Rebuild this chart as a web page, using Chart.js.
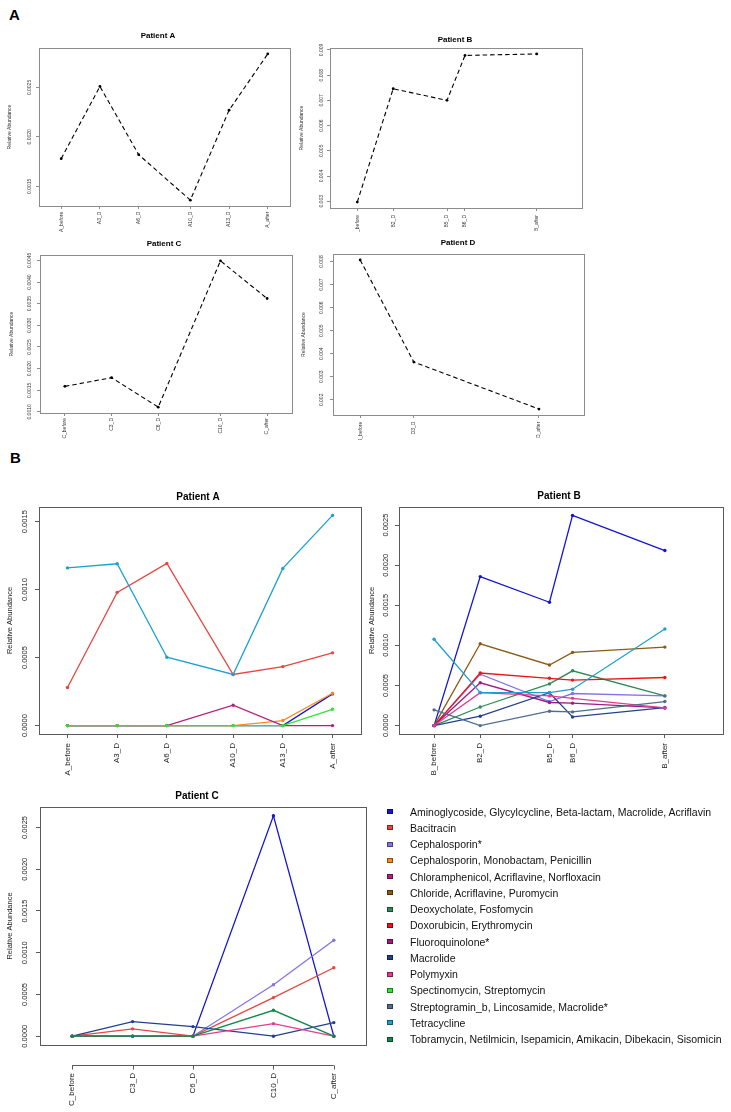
<!DOCTYPE html>
<html><head><meta charset="utf-8">
<script src="https://cdn.jsdelivr.net/npm/chart.js@4.4.1/dist/chart.umd.min.js"></script>
<style>
html,body{margin:0;padding:0;background:#fff;}
body{width:731px;height:1112px;position:relative;overflow:hidden;font-family:'Liberation Sans',Arial,sans-serif;}
canvas{position:absolute;}
.panel{position:absolute;font-weight:bold;font-size:15px;line-height:15px;color:#000;}
.li{position:absolute;font-size:10.5px;color:#111;white-space:nowrap;line-height:12px;}
.sw{position:absolute;width:6px;height:5px;box-sizing:border-box;border:1px solid rgba(0,0,0,0.45);}
</style></head><body>
<div class="panel" style="left:9px;top:7px">A</div>
<div class="panel" style="left:10px;top:450px">B</div>
<script>
const FONT = "'Liberation Sans', Arial, sans-serif";
Chart.defaults.font.family = FONT;
Chart.defaults.color = '#222';

// ---------- antibiotic classes (legend) ----------
const classNames = [
  'Aminoglycoside, Glycylcycline, Beta-lactam, Macrolide, Acriflavin',
  'Bacitracin',
  'Cephalosporin*',
  'Cephalosporin, Monobactam, Penicillin',
  'Chloramphenicol, Acriflavine, Norfloxacin',
  'Chloride, Acriflavine, Puromycin',
  'Deoxycholate, Fosfomycin',
  'Doxorubicin, Erythromycin',
  'Fluoroquinolone*',
  'Macrolide',
  'Polymyxin',
  'Spectinomycin, Streptomycin',
  'Streptogramin_b, Lincosamide, Macrolide*',
  'Tetracycline',
  'Tobramycin, Netilmicin, Isepamicin, Amikacin, Dibekacin, Sisomicin'
];
const classColors = ['#1414D2','#E8453F','#8672E6','#FA8C1E','#B41E80','#8B5A16','#2E8B57','#EC1414','#A01A80','#23408E','#E23C8E','#2CE82C','#4F6E8C','#1CA0D0','#108A48'];

// ---------- sample time points ----------
const labelsA = ['A_before','A3_D','A6_D','A10_D','A13_D','A_after'];
const daysA = [0, 3, 6, 10, 13, 16];
const labelsB = ['B_before','B2_D','B5_D','B6_D','B_after'];
const daysB = [0, 2, 5, 6, 10];
const labelsC = ['C_before','C3_D','C6_D','C10_D','C_after'];
const daysC = [0, 3, 6, 10, 13];
const labelsD = ['D_before','D3_D','D_after'];
const daysD = [0, 3, 10];

// ---------- Panel A: total relative abundance ----------
const totalA = [0.00178, 0.00251, 0.00182, 0.00136, 0.00227, 0.00284];
const totalB = [0.00297, 0.00746, 0.00700, 0.00878, 0.00884];
const totalC = [0.00159, 0.00179, 0.00111, 0.00449, 0.00362];
const totalD = [0.00807, 0.00364, 0.00160];
const yTicksTopA = [0.0015, 0.0020, 0.0025];
const yTickLabelsTopA = ['0.0015','0.0020','0.0025'];
const yTicksTopB = [0.003, 0.004, 0.005, 0.006, 0.007, 0.008, 0.009];
const yTickLabelsTopB = ['0.003','0.004','0.005','0.006','0.007','0.008','0.009'];
const yTicksTopC = [0.0010, 0.0015, 0.0020, 0.0025, 0.0030, 0.0035, 0.0040, 0.0045];
const yTickLabelsTopC = ['0.0010','0.0015','0.0020','0.0025','0.0030','0.0035','0.0040','0.0045'];
const yTicksTopD = [0.002, 0.003, 0.004, 0.005, 0.006, 0.007, 0.008];
const yTickLabelsTopD = ['0.002','0.003','0.004','0.005','0.006','0.007','0.008'];

// ---------- Panel B, Patient A ----------
const pA_aminoglycoside = [0, 0, 0, 0, 0, 0.000233];
const pA_bacitracin     = [0.00028, 0.00098, 0.001193, 0.000376, 0.000434, 0.000535];
const pA_cephMono       = [0, 0, 0, 0, 0.000037, 0.000238];
const pA_chloramphenicol= [0, 0, 0, 0.00015, 0, 0];
const pA_spectinomycin  = [0, 0, 0, 0, 0, 0.00012];
const pA_tetracycline   = [0.00116, 0.00119, 0.000503, 0.000376, 0.001156, 0.001546];

// ---------- Panel B, Patient B ----------
const pB_aminoglycoside = [0, 0.001858, 0.001538, 0.002621, 0.002183];
const pB_cephalosporin  = [0, 0.00064, 0.00030, 0.00040, 0.00037];
const pB_chloride       = [0, 0.00102, 0.000756, 0.000913, 0.000979];
const pB_deoxycholate   = [0, 0.000232, 0.00052, 0.000683, 0.00037];
const pB_doxorubicin    = [0, 0.000656, 0.00059, 0.000567, 0.0006];
const pB_fluoroquinolone= [0, 0.000534, 0.000288, 0.00028, 0.00022];
const pB_macrolide      = [0, 0.000117, 0.00041, 0.000108, 0.000225];
const pB_polymyxin      = [0, 0.00041, 0.00037, 0.00034, 0.00022];
const pB_streptogramin  = [0.000196, 0, 0.000179, 0.000171, 0.0003];
const pB_tetracycline   = [0.001077, 0.000412, 0.000412, 0.000454, 0.001204];

// ---------- Panel B, Patient C ----------
const pC_aminoglycoside = [0, 0, 0, 0.00264, 0];
const pC_bacitracin     = [0, 0.0000876, 0, 0.000462, 0.00082];
const pC_cephalosporin  = [0, 0, 0, 0.000617, 0.00115];
const pC_macrolide      = [0, 0.000175, 0.000115, 0, 0.000163];
const pC_polymyxin      = [0, 0, 0, 0.00015, 0];
const pC_tobramycin     = [0, 0, 0, 0.00031, 0];

const yTicksB = [0, 0.0005, 0.0010, 0.0015, 0.0020, 0.0025];
const yTickLabelsB = ['0.0000','0.0005','0.0010','0.0015','0.0020','0.0025'];

// ---------- helpers ----------
function rLim(lo, hi){ const d = (hi - lo) * 0.04; return [lo - d, hi + d]; }

const boxPlugin = {
  id: 'rbox',
  afterLayout(chart, args, o){
    if (o.titleX != null && chart.titleBlock){
      const t = chart.titleBlock, w = t.right - t.left;
      t.left = o.titleX - w/2; t.right = o.titleX + w/2;
    }
  },
  afterDraw(chart, args, o){
    const a = chart.chartArea, c = chart.ctx;
    c.save();
    c.strokeStyle = o.color; c.lineWidth = 1;
    c.strokeRect(Math.round(a.left)+0.5, Math.round(a.top)+0.5, Math.round(a.right-a.left), Math.round(a.bottom-a.top));
    if (o.axisY != null){
      const xs = chart.scales.x;
      const vals = o.axisVals;
      const y = o.axisY + 0.5;
      c.beginPath();
      c.moveTo(xs.getPixelForValue(vals[0]), y);
      c.lineTo(xs.getPixelForValue(vals[vals.length-1]), y);
      vals.forEach(v => { const px = Math.round(xs.getPixelForValue(v)) + 0.5; c.moveTo(px, y); c.lineTo(px, y + 4); });
      c.stroke();
    }
    c.restore();
  }
};

function makeChart(s){
  const [cl, ct, cr, cb] = s.canvas, [bl, bt, br, bb] = s.box;
  const cv = document.createElement('canvas');
  cv.width = cr - cl; cv.height = cb - ct;
  cv.style.left = cl + 'px'; cv.style.top = ct + 'px';
  cv.style.width = (cr - cl) + 'px'; cv.style.height = (cb - ct) + 'px';
  document.body.appendChild(cv);
  const tlh = s.titleSize * 1.2, ylh = s.ylabelSize * 1.2;
  const m = document.createElement('canvas').getContext('2d');
  m.font = s.ytickSize + 'px ' + FONT;
  const yw = m.measureText(s.yTickLabels[0]).width;
  const xr = rLim(s.xlim[0], s.xlim[1]);
  let lo = Infinity, hi = -Infinity;
  s.series.forEach(d => d.values.forEach(v => { lo = Math.min(lo, v); hi = Math.max(hi, v); }));
  const yr = rLim(lo, hi);
  const custom = s.axisY != null;
  new Chart(cv, {
    type: 'line',
    data: { datasets: s.series.map((d, i) => ({
      label: d.label,
      data: s.xVals.map((x, j) => ({ x: x, y: d.values[j] })),
      borderColor: d.color, backgroundColor: d.color,
      pointBackgroundColor: d.color, pointBorderColor: d.color, pointBorderWidth: 0,
      pointRadius: s.pointRadius, borderWidth: s.lineWidth, borderDash: s.dash || [],
      tension: 0, fill: false, order: -i
    })) },
    options: {
      responsive: false, animation: false, devicePixelRatio: 1,
      layout: { padding: { left: 0, top: 0, right: cr - br, bottom: 0 } },
      plugins: {
        legend: { display: false }, tooltip: { enabled: false },
        title: { display: true, text: s.title, color: '#000',
          font: { size: s.titleSize, weight: 'bold', lineHeight: 1.2 },
          padding: { top: s.titleY - ct - tlh/2, bottom: bt - s.titleY - tlh/2 } },
        rbox: { color: s.boxColor, titleX: s.titleX - cl, axisY: custom ? s.axisY - ct : null, axisVals: s.xVals }
      },
      scales: {
        x: { type: 'linear', position: 'bottom', min: xr[0], max: xr[1], bounds: 'data',
          afterBuildTicks(sc){ sc.ticks = s.xVals.map(v => ({ value: v })); },
          afterFit(sc){ sc.height = cb - bb; },
          grid: { display: true, drawOnChartArea: false, drawTicks: !custom, tickLength: s.tickLen, color: s.boxColor, lineWidth: 1 },
          border: { display: false },
          ticks: { autoSkip: false, minRotation: 90, maxRotation: 90, color: s.textColor,
            padding: custom ? s.xlabelTop - bb : s.xlabelTop - bb - s.tickLen,
            font: { size: s.xtickSize }, callback: (v, i) => s.xLabels[i] } },
        y: { type: 'linear', position: 'left', min: yr[0], max: yr[1],
          afterBuildTicks(sc){ sc.ticks = s.yTicks.map(v => ({ value: v })); },
          afterFit(sc){ sc.width = bl - cl; },
          grid: { display: true, drawOnChartArea: false, drawTicks: true, tickLength: s.tickLen, color: s.boxColor, lineWidth: 1 },
          border: { display: false },
          title: { display: true, text: 'Relative Abundance', color: s.textColor,
            font: { size: s.ylabelSize, lineHeight: 1.2 },
            padding: { top: s.ylabelX - cl - ylh/2, bottom: 0 } },
          ticks: { autoSkip: false, minRotation: 90, maxRotation: 90, color: s.textColor,
            padding: bl - s.tickLen - s.ytickX, labelOffset: -yw/2,
            font: { size: s.ytickSize }, callback: (v, i) => s.yTickLabels[i] } }
      }
    },
    plugins: [boxPlugin]
  });
}

// ---------- Panel A charts ----------
const topStyle = { titleSize: 8, ylabelSize: 5, ytickSize: 5, xtickSize: 5, tickLen: 3,
  boxColor: '#8c8c8c', textColor: '#333', lineWidth: 1.1, dash: [4.5, 3], pointRadius: 1.4 };
function blackSeries(v){ return [{ label: 'Relative Abundance', values: v, color: '#000' }]; }

makeChart(Object.assign({}, topStyle, { title: 'Patient A', canvas: [0, 26, 300, 232], box: [39, 48, 290, 206],
  titleX: 158, titleY: 36, ylabelX: 10, ytickX: 29.3, xlabelTop: 211.7, xlim: [-1, 17],
  xVals: daysA, xLabels: labelsA, yTicks: yTicksTopA, yTickLabels: yTickLabelsTopA, series: blackSeries(totalA) }));
makeChart(Object.assign({}, topStyle, { title: 'Patient B', canvas: [296, 26, 596, 232], box: [330, 48, 582, 208],
  titleX: 455, titleY: 40, ylabelX: 301.7, ytickX: 321.7, xlabelTop: 215, xlim: [-1, 12],
  xVals: daysB, xLabels: labelsB, yTicks: yTicksTopB, yTickLabels: yTickLabelsTopB, series: blackSeries(totalB) }));
makeChart(Object.assign({}, topStyle, { title: 'Patient C', canvas: [0, 234, 300, 440], box: [40, 255, 292, 413],
  titleX: 164, titleY: 244, ylabelX: 11.7, ytickX: 29.3, xlabelTop: 418, xlim: [-1, 14],
  xVals: daysC, xLabels: labelsC, yTicks: yTicksTopC, yTickLabels: yTickLabelsTopC, series: blackSeries(totalC) }));
makeChart(Object.assign({}, topStyle, { title: 'Patient D', canvas: [296, 234, 596, 440], box: [333, 254, 584, 415],
  titleX: 458, titleY: 243, ylabelX: 303.3, ytickX: 321.7, xlabelTop: 421.7, xlim: [-1, 12],
  xVals: daysD, xLabels: labelsD, yTicks: yTicksTopD, yTickLabels: yTickLabelsTopD, series: blackSeries(totalD) }));

// ---------- Panel B charts ----------
const botStyle = { titleSize: 10, ylabelSize: 7.5, ytickSize: 7.5, xtickSize: 8, tickLen: 4,
  boxColor: '#5a5a5a', textColor: '#222', lineWidth: 1.3, pointRadius: 1.7 };
function cls(i, v){ return { label: classNames[i], values: v, color: classColors[i] }; }

makeChart(Object.assign({}, botStyle, { title: 'Patient A', canvas: [0, 484, 372, 792], box: [39, 507, 361, 734],
  titleX: 198, titleY: 497, ylabelX: 10, ytickX: 25, xlabelTop: 743, xlim: [-1, 17],
  xVals: daysA, xLabels: labelsA, yTicks: yTicksB.slice(0, 4), yTickLabels: yTickLabelsB.slice(0, 4),
  series: [cls(0, pA_aminoglycoside), cls(1, pA_bacitracin), cls(3, pA_cephMono), cls(4, pA_chloramphenicol),
           cls(11, pA_spectinomycin), cls(13, pA_tetracycline)] }));
makeChart(Object.assign({}, botStyle, { title: 'Patient B', canvas: [366, 484, 731, 792], box: [399, 507, 723, 734],
  titleX: 559, titleY: 496, ylabelX: 372, ytickX: 385.5, xlabelTop: 743, xlim: [-1, 12],
  xVals: daysB, xLabels: labelsB, yTicks: yTicksB, yTickLabels: yTickLabelsB,
  series: [cls(0, pB_aminoglycoside), cls(2, pB_cephalosporin), cls(5, pB_chloride), cls(6, pB_deoxycholate),
           cls(7, pB_doxorubicin), cls(8, pB_fluoroquinolone), cls(9, pB_macrolide), cls(10, pB_polymyxin),
           cls(12, pB_streptogramin), cls(13, pB_tetracycline)] }));
makeChart(Object.assign({}, botStyle, { title: 'Patient C', canvas: [0, 784, 378, 1112], box: [40, 807, 366, 1045],
  titleX: 197, titleY: 796, ylabelX: 10, ytickX: 25, xlabelTop: 1073, axisY: 1065, xlim: [-1, 14],
  xVals: daysC, xLabels: labelsC, yTicks: yTicksB, yTickLabels: yTickLabelsB,
  series: [cls(0, pC_aminoglycoside), cls(1, pC_bacitracin), cls(2, pC_cephalosporin), cls(9, pC_macrolide),
           cls(10, pC_polymyxin), cls(14, pC_tobramycin)] }));

// ---------- legend ----------
classNames.forEach((name, i) => {
  const yc = 811.7 + 16.24 * i;
  const sw = document.createElement('div');
  sw.className = 'sw'; sw.style.left = '387px'; sw.style.top = (yc - 2.5) + 'px'; sw.style.background = classColors[i];
  document.body.appendChild(sw);
  const t = document.createElement('div');
  t.className = 'li'; t.style.left = '410px'; t.style.top = (yc - 6) + 'px'; t.textContent = name;
  document.body.appendChild(t);
});
</script></body></html>
